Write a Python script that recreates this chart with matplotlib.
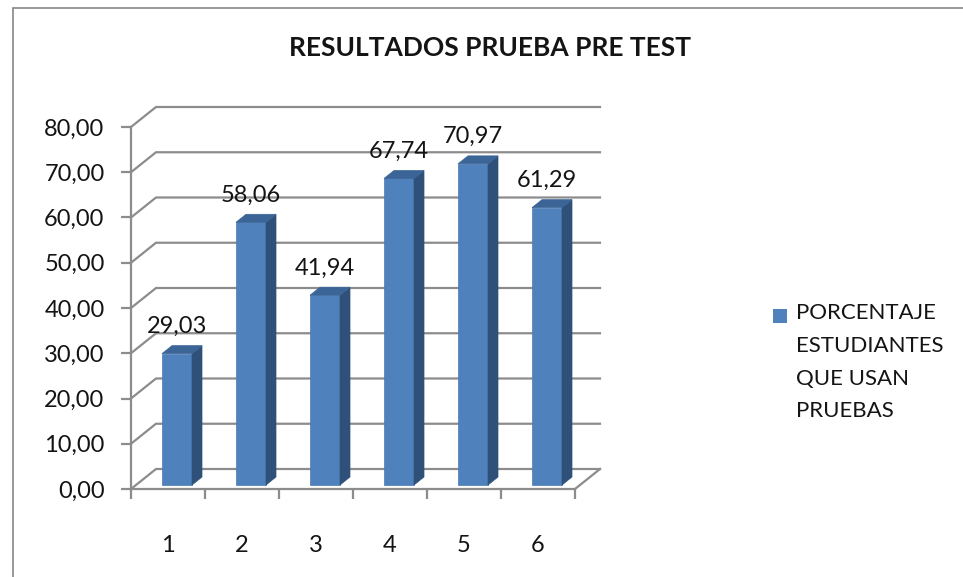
import matplotlib.pyplot as plt
from matplotlib.patches import Polygon, Rectangle

# datos
categorias = [1, 2, 3, 4, 5, 6]
porcentajes = [29.03, 58.06, 41.94, 67.74, 70.97, 61.29]
etiquetas_y = ["0,00", "10,00", "20,00", "30,00", "40,00", "50,00", "60,00", "70,00", "80,00"]
titulo = "RESULTADOS PRUEBA PRE TEST"
serie = "PORCENTAJE\nESTUDIANTES\nQUE USAN\nPRUEBAS"

plt.rcParams['font.family'] = ['Lato', 'DejaVu Sans']

W, H = 963, 577
fig = plt.figure(figsize=(W / 100, H / 100), dpi=100)

# marco del grafico (sale por la derecha y por abajo)
fig.patches.append(Rectangle((13 / W, -0.2), 1.2, 1.2 - 8 / H, transform=fig.transFigure,
                             fill=False, edgecolor="#868686", linewidth=1.2))

# ejes frontales (pixeles 131..575 en x, 489..127 en y)
ax = fig.add_axes([131 / W, (H - 489) / H, 444 / W, 362 / H])
ax.set_xlim(0.5, 6.5)
ax.set_ylim(0, 80)
ax.set_facecolor("none")

px_x = 444 / 6.0     # pixeles por categoria
px_y = 362 / 80.0    # pixeles por unidad
dx, dy = 25 / px_x, 20 / px_y          # profundidad de la pared
gris = "#8c8c8c"
texto = "#141414"

# cuadricula de la pared trasera
for v in range(0, 81, 10):
    ax.plot([0.5, 0.5 + dx, 6.5 + dx], [v, v + dy, v + dy], color=gris, lw=1.6,
            clip_on=False, zorder=1, solid_joinstyle="miter")
# borde derecho del piso
ax.plot([6.5, 6.5 + dx], [0, dy], color=gris, lw=1.6, clip_on=False, zorder=1)

# barras 3D
desp_x = 9 / px_x
base = 4 / px_y
ancho = 30 / px_x
sx, sy = 10 / px_x, 8 / px_y
xs = [c + desp_x for c in categorias]
ax.bar(xs, porcentajes, width=ancho, bottom=base, color="#4f81bd",
       edgecolor="#4a7ab3", linewidth=0.5, zorder=3)
for x, v in zip(xs, porcentajes):
    xl, xr = x - ancho / 2, x + ancho / 2
    top = base + v
    ax.add_patch(Polygon([(xr, base), (xr + sx, base + sy), (xr + sx, top + sy), (xr, top)],
                         closed=True, facecolor="#2f5179", edgecolor="#2f5179",
                         linewidth=0.5, zorder=3, clip_on=False))
    ax.add_patch(Polygon([(xl, top), (xl + sx, top + sy), (xr + sx, top + sy), (xr, top)],
                         closed=True, facecolor="#3b6597", edgecolor="#3b6597",
                         linewidth=0.5, zorder=3, clip_on=False))
    ax.annotate(f"{v:.2f}".replace(".", ","), (x, top), xytext=(0, 19.5),
                textcoords="offset points", ha="center", va="center",
                fontsize=17, color=texto, zorder=4, annotation_clip=False)

# ejes
for lado in ["top", "right"]:
    ax.spines[lado].set_visible(False)
for lado in ["left", "bottom"]:
    ax.spines[lado].set_color(gris)
    ax.spines[lado].set_linewidth(1.6)
ax.set_yticks(range(0, 81, 10))
ax.set_yticklabels(etiquetas_y)
ax.tick_params(axis="y", length=7, width=1.6, color=gris, labelsize=17,
               labelcolor=texto, pad=12)
ax.set_xticks([c - 0.5 for c in categorias] + [6.5])
ax.set_xticklabels([])
ax.set_xticks(categorias, minor=True)
ax.set_xticklabels([str(c) for c in categorias], minor=True)
ax.tick_params(axis="x", which="major", length=7, width=1.6, color=gris)
ax.tick_params(axis="x", which="minor", length=0, labelsize=17,
               labelcolor=texto, pad=33)

# titulo
fig.text(490 / W, 1 - 48 / H, titulo, ha="center", va="center",
         fontsize=19, fontweight="bold", color=texto)

# leyenda
fig.patches.append(Rectangle((773 / W, 1 - 323 / H), 14 / W, 14 / H,
                             transform=fig.transFigure, facecolor="#4f81bd",
                             edgecolor="none"))
fig.text(796 / W, 1 - 303 / H, serie, ha="left", va="top", fontsize=16,
         color=texto, linespacing=1.8)

fig.savefig("out.png", dpi=100)
